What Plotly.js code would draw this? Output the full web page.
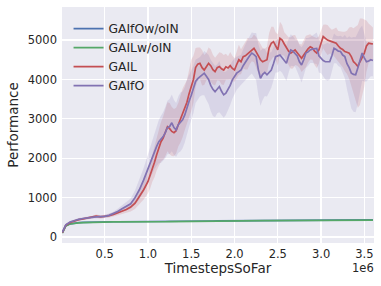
<!DOCTYPE html>
<html><head><meta charset="utf-8">
<script src="https://cdn.plot.ly/plotly-3.0.1.min.js"></script>
<style>html,body{margin:0;padding:0;background:#fff}#chart{width:381px;height:286px}</style>
</head><body><div id="chart"></div>
<script>
// timesteps (in units of 1e6)
var flatSteps = [0.01,0.05,0.10,0.15,0.20,0.25,0.30,0.35,0.40,0.45,
  0.50,0.55,0.60,0.65,0.70,0.75,0.80,0.85,0.90,0.95,
  1.00,1.05,1.10,1.15,1.20,1.25,1.30,1.35,1.40,1.45,
  1.50,1.55,1.60,1.65,1.70,1.75,1.80,1.85,1.90,1.95,
  2.00,2.05,2.10,2.15,2.20,2.25,2.30,2.35,2.40,2.45,
  2.50,2.55,2.60,2.65,2.70,2.75,2.80,2.85,2.90,2.95,
  3.00,3.05,3.10,3.15,3.20,3.25,3.30,3.35,3.40,3.45,
  3.50,3.55,3.60];
var stepsEarly = [0.01,0.05,0.10,0.15,0.20,0.25,0.30,0.35,0.40,0.45,
  0.50,0.55,0.60,0.65,0.70,0.75,0.80,0.85,0.90,0.95];
var stepsLate = [1.000,1.025,1.050,1.075,1.100,1.125,1.150,1.175,1.200,1.225,
  1.250,1.275,1.300,1.325,1.350,1.375,1.400,1.425,1.450,1.475,
  1.500,1.525,1.550,1.575,1.600,1.625,1.650,1.675,1.700,1.725,
  1.750,1.775,1.800,1.825,1.850,1.875,1.900,1.925,1.950,1.975,
  2.000,2.025,2.050,2.075,2.100,2.125,2.150,2.175,2.200,2.225,
  2.250,2.275,2.300,2.325,2.350,2.375,2.400,2.425,2.450,2.475,
  2.500,2.525,2.550,2.575,2.600,2.625,2.650,2.675,2.700,2.725,
  2.750,2.775,2.800,2.825,2.850,2.875,2.900,2.925,2.950,2.975,
  3.000,3.025,3.050,3.075,3.100,3.125,3.150,3.175,3.200,3.225,
  3.250,3.275,3.300,3.325,3.350,3.375,3.400,3.425,3.450,3.475,
  3.500,3.525,3.550,3.575,3.600];
var steps = stepsEarly.concat(stepsLate);
var seriesNames = ["GAIfOw/oIN","GAILw/oIN","GAIL","GAIfO"];
var gaifoWoIN = [110,290,335,355,365,370,375,378,380,382,
  385,386,387,388,388,389,389,390,390,391,
  392,393,394,395,396,397,398,399,400,401,
  402,403,404,405,406,407,408,409,410,411,
  412,413,414,415,416,417,418,419,420,421,
  422,422,423,424,424,425,426,426,427,428,
  428,429,430,430,431,431,432,432,433,433,
  434,434,435];
var gailWoIN = [100,280,330,350,360,365,370,372,375,378,
  380,381,382,382,381,380,379,378,378,379,
  380,381,383,385,387,389,391,393,395,396,
  398,399,400,401,402,403,404,405,406,407,
  408,409,410,411,412,413,414,415,416,417,
  418,418,419,420,420,421,422,422,423,424,
  424,425,425,426,426,427,427,428,428,429,
  429,430,430];
var gail = [110,300,370,410,440,460,480,500,530,510,
  520,540,570,610,650,700,760,860,1030,1200,
  1410,1560,1750,1900,2090,2250,2420,2510,2650,2800,
  2750,2680,2650,2700,2850,3000,3150,3300,3420,3640,
  3850,4000,4300,4390,4410,4300,4240,4330,4410,4350,
  4250,4200,4300,4330,4270,4240,4320,4290,4350,4280,
  4240,4380,4500,4450,4580,4600,4650,4710,4760,4790,
  4700,4580,4500,4450,4480,4500,4800,4920,4960,4850,
  4750,5045,5000,4900,4790,4720,4670,4700,4750,4680,
  4600,4540,4620,4710,4780,4830,4800,4720,4670,4750,
  4950,5090,5045,5000,4980,4960,4940,4920,4850,4790,
  4760,4710,4690,4670,4580,4450,4400,4330,4450,4550,
  4670,4850,4920,4910,4900];
var gailStd = [20,30,30,30,30,30,30,35,40,40,
  40,45,50,60,70,90,110,150,200,250,
  300,330,350,380,400,450,500,550,600,620,
  650,620,600,580,550,600,620,580,560,600,
  650,600,500,420,400,450,380,350,400,420,
  380,350,320,360,400,380,330,300,350,320,
  300,350,380,320,300,350,400,330,300,350,
  380,420,400,350,300,330,380,420,380,350,
  400,420,380,300,330,350,400,420,380,330,
  300,350,380,400,350,320,300,350,380,350,
  320,300,350,380,330,300,350,400,380,420,
  450,500,550,650,750,850,950,1050,1100,1000,
  850,650,500,450,420];
var gaifo = [120,310,380,420,450,470,490,500,510,515,
  525,550,590,650,720,780,845,1000,1200,1450,
  1750,1900,2050,2200,2300,2420,2480,2550,2650,2780,
  2805,2900,2780,2720,2850,2920,2975,3100,3310,3450,
  3600,3750,3950,4020,4070,4120,4160,4080,4000,3850,
  3750,3690,3760,3820,3700,3610,3650,3735,3850,3990,
  4080,4160,4200,4240,4350,4450,4520,4600,4670,4630,
  4580,4250,4030,4130,4180,4120,4180,4240,4400,4580,
  4600,4620,4550,4480,4410,4600,4750,4720,4670,4600,
  4450,4370,4500,4670,4700,4750,4770,4790,4790,4600,
  4540,4480,4450,4450,4450,4600,4790,4760,4720,4710,
  4620,4580,4400,4300,4160,4130,4120,4290,4500,4670,
  4550,4450,4470,4500,4480];
var gaifoStd = [20,30,30,30,30,30,30,35,40,40,
  40,45,50,65,80,100,130,180,250,300,
  350,380,420,470,500,550,600,620,650,680,
  700,720,700,680,720,750,720,700,680,650,
  620,600,550,520,500,520,560,600,620,650,
  680,650,620,650,600,580,550,520,500,480,
  450,420,400,380,420,450,480,500,520,550,
  600,650,700,650,600,550,500,450,420,400,
  420,400,380,420,450,430,400,380,350,400,
  420,450,400,380,350,330,350,380,400,420,
  380,400,450,480,450,400,380,350,380,400,
  450,550,650,800,900,950,950,900,800,700,
  600,500,450,420,400];
var xTicks = [0.5,1.0,1.5,2.0,2.5,3.0,3.5];
var xTickText = ["0.5","1.0","1.5","2.0","2.5","3.0","3.5"];
var yTicks = [0,1000,2000,3000,4000,5000];

var colors = ["#4C72B0","#55A868","#C44E52","#8172B2"];
var fills = ["rgba(76,114,176,0.18)","rgba(85,168,104,0.18)","rgba(196,78,82,0.17)","rgba(129,114,178,0.17)"];

function band(mean, sd, idx){
  var lo = mean.map(function(v,i){return v - sd[i];});
  var hi = mean.map(function(v,i){return v + sd[i];});
  return [
    {x:steps, y:lo, mode:'lines', line:{width:0,color:colors[idx]}, showlegend:false, hoverinfo:'skip', legendgroup:'g'+idx},
    {x:steps, y:hi, mode:'lines', line:{width:0,color:colors[idx]}, fill:'tonexty', fillcolor:fills[idx], showlegend:false, hoverinfo:'skip', legendgroup:'g'+idx}
  ];
}
function line(xs, vals, idx){
  return {x:xs, y:vals, mode:'lines', name:seriesNames[idx], legendgroup:'g'+idx,
    line:{color:colors[idx], width:1.7}};
}
var data = [line(flatSteps,gaifoWoIN,0), line(flatSteps,gailWoIN,1)]
  .concat(band(gail,gailStd,2)).concat(band(gaifo,gaifoStd,3))
  .concat([line(steps,gail,2), line(steps,gaifo,3)]);
var layout = {
  width:381, height:286,
  margin:{l:61.5, r:7, t:7, b:43},
  paper_bgcolor:'#ffffff', plot_bgcolor:'#EAEAF2',
  font:{family:'DejaVu Sans', color:'#262626', size:11.5},
  showlegend:true,
  legend:{x:0.021, y:0.97, xanchor:'left', yanchor:'top', bgcolor:'rgba(0,0,0,0)', borderwidth:0,
    font:{size:12.3, color:'#262626'}, tracegroupgap:2, traceorder:'normal'},
  xaxis:{range:[0.006,3.612], tickvals:xTicks, ticktext:xTickText, showgrid:true, gridcolor:'#ffffff', gridwidth:1.2,
    zeroline:false, showline:false, ticks:'', ticklabelstandoff:2,
    title:{text:'TimestepsSoFar', font:{size:13.5}, standoff:3}},
  yaxis:{range:[-152,5840], tickvals:yTicks, showgrid:true, gridcolor:'#ffffff', gridwidth:1.2,
    zeroline:false, showline:false, ticks:'', ticklabelstandoff:4,
    title:{text:'Performance', font:{size:13.5}, standoff:5}},
  annotations:[{text:'1e6', xref:'paper', yref:'paper', x:0.965, y:-0.105, xanchor:'center', yanchor:'middle', showarrow:false, font:{size:11.5}}]
};
Plotly.newPlot('chart', data, layout, {staticPlot:true, displayModeBar:false});
</script></body></html>
